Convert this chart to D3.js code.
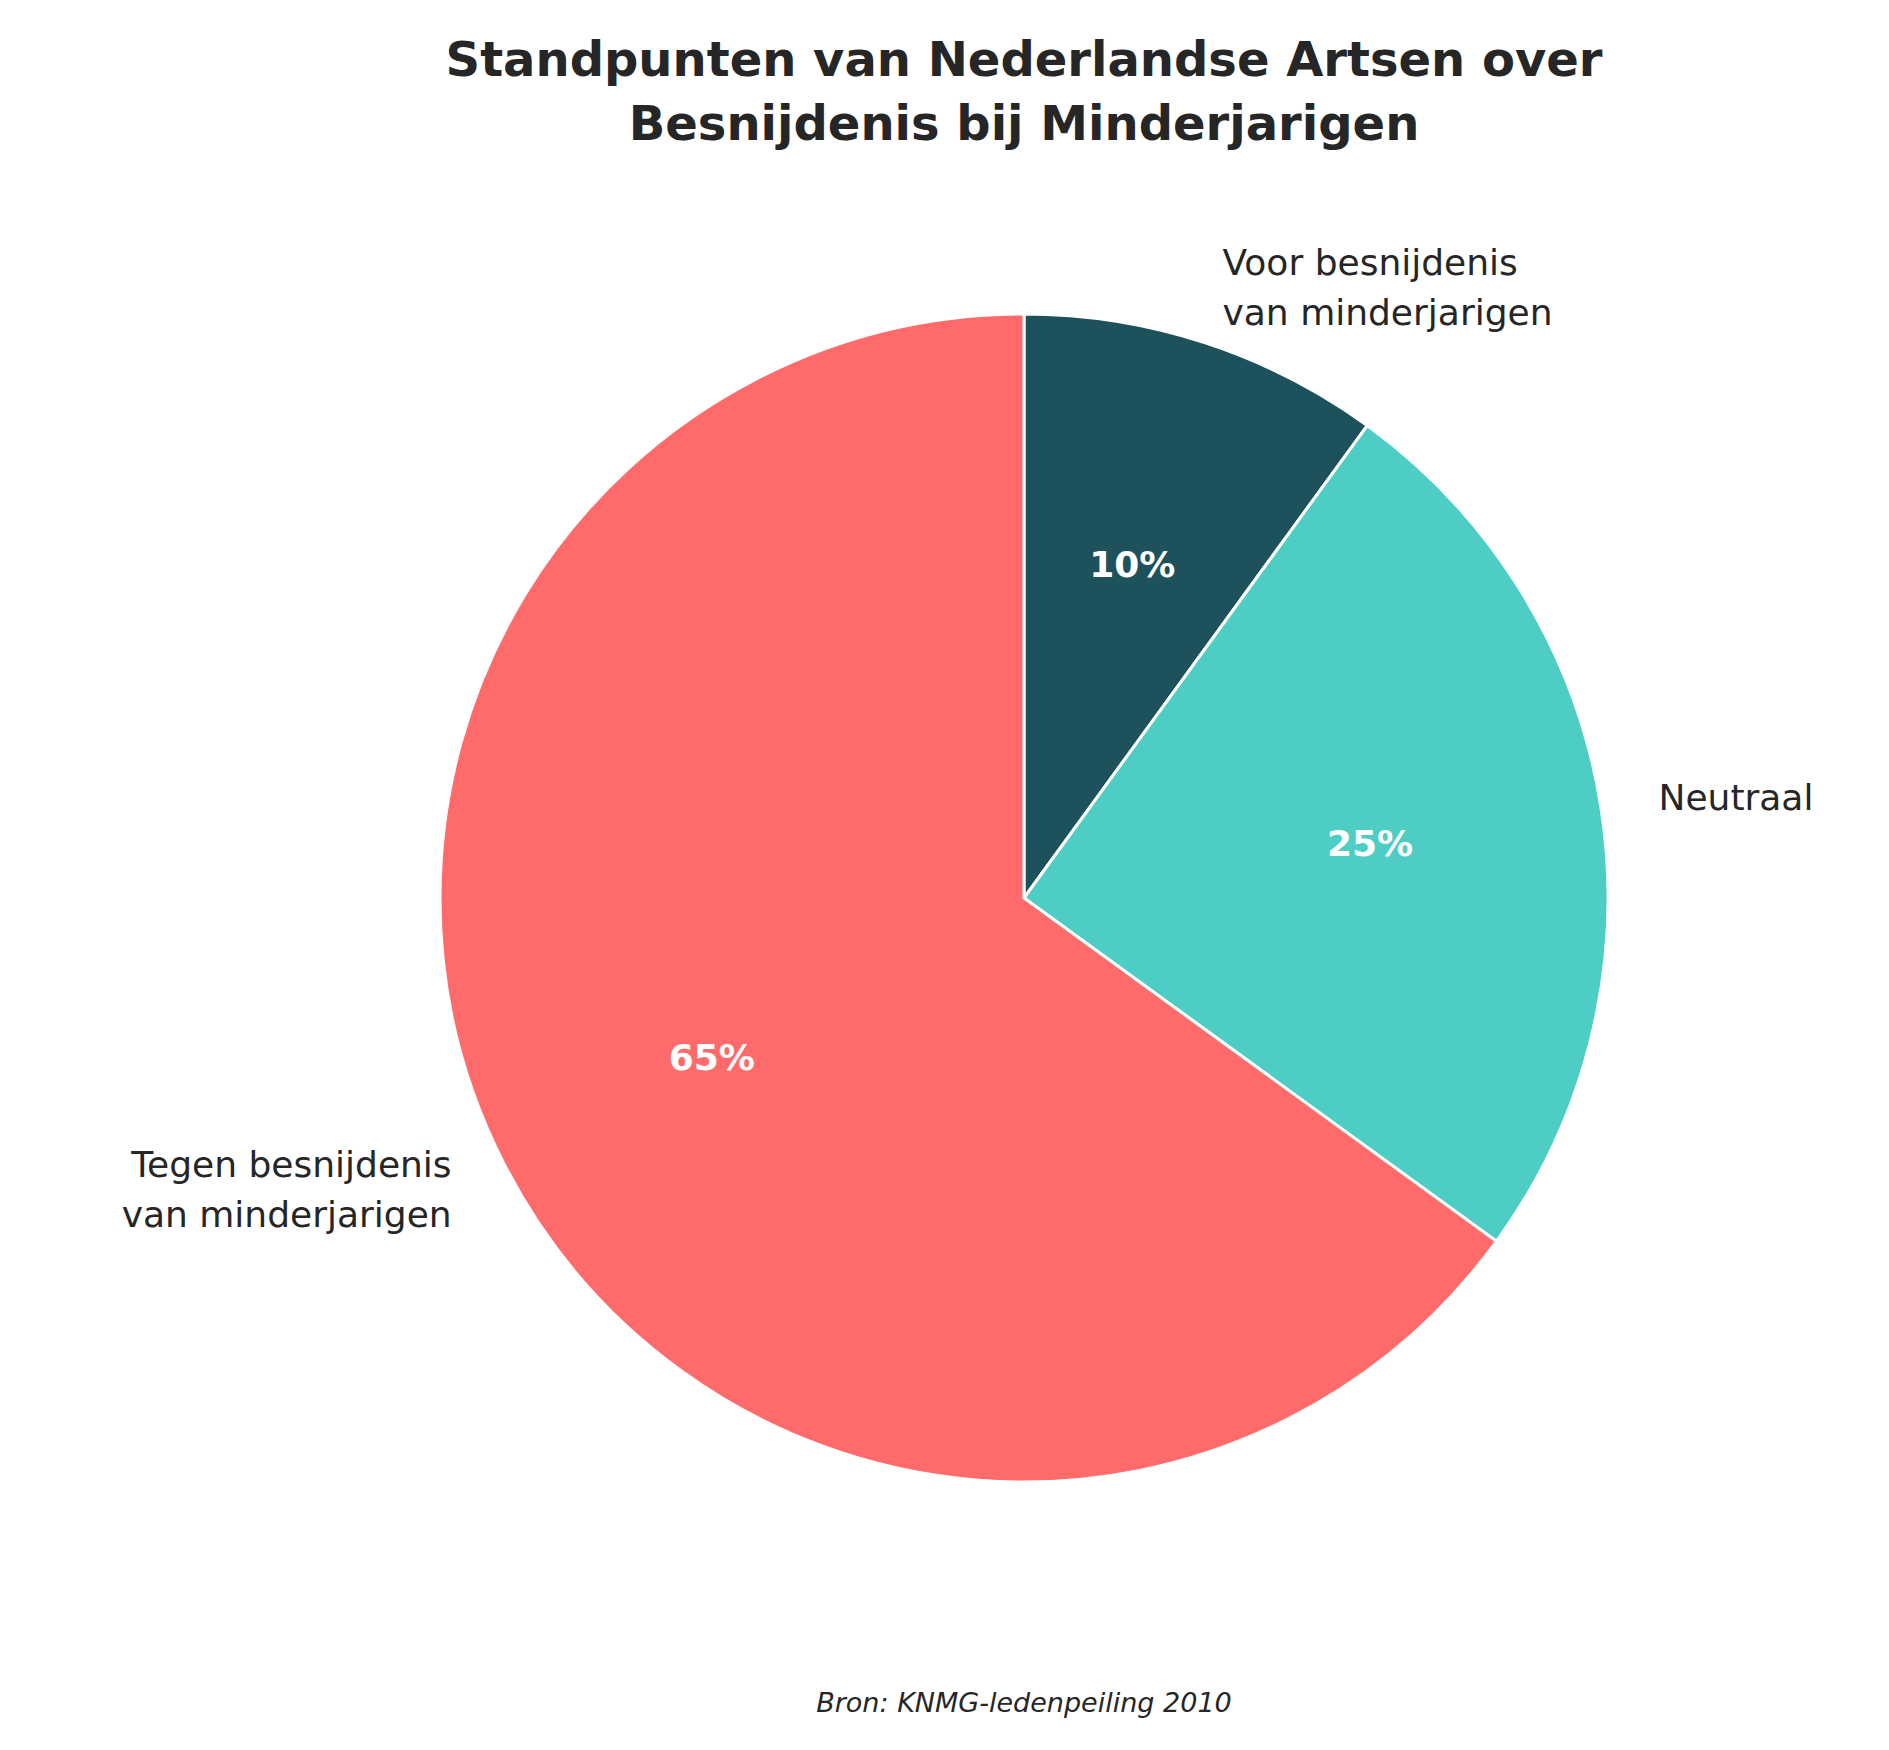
<!DOCTYPE html>
<html><head><meta charset="utf-8">
<script src="https://cdn.jsdelivr.net/npm/d3@7"></script>
<style>body{margin:0;background:#fff}</style></head>
<body><svg id="c" width="1889" height="1750"></svg>
<script>
const categories = [["Voor besnijdenis","van minderjarigen"],["Neutraal"],["Tegen besnijdenis","van minderjarigen"]];
const values = [10, 25, 65];
const colors = ["#1D525C", "#4ECDC4", "#FF6B6B"];
const titleLines = ["Standpunten van Nederlandse Artsen over","Besnijdenis bij Minderjarigen"];
const source = "Bron: KNMG-ledenpeiling 2010";

const svg = d3.select("#c");
const cx = 1024, cy = 898, R = 584;
const font = "DejaVu Sans, sans-serif";
svg.append("text").attr("x", 1024).attr("text-anchor","middle").attr("font-family",font)
  .attr("font-weight","bold").attr("font-size",48).attr("fill","#262626")
  .selectAll("tspan").data(titleLines).join("tspan").attr("x",1024)
  .attr("y",(d,i)=>76+i*64).text(d=>d);

const pie = d3.pie().sort(null).value(d=>d)(values);
const arc = d3.arc().innerRadius(0).outerRadius(R);
const g = svg.append("g").attr("transform",`translate(${cx},${cy})`);
g.selectAll("path").data(pie).join("path").attr("d",arc)
  .attr("fill",(d,i)=>colors[i]).attr("stroke","#fff").attr("stroke-width",3);

pie.forEach((d,i)=>{
  const a = (d.startAngle+d.endAngle)/2;
  const sx = Math.sin(a), sy = -Math.cos(a);
  g.append("text").attr("x",sx*R*0.6).attr("y",sy*R*0.6).attr("dy","0.35em")
    .attr("text-anchor","middle").attr("font-family",font).attr("font-weight","bold")
    .attr("font-size",36).attr("fill","#fff").text(values[i]+"%");
  const lines = categories[i];
  const lx = sx*R*1.1, ly = sy*R*1.1;
  const lh = 50;
  g.append("text").attr("text-anchor", sx>=0?"start":"end").attr("font-family",font)
    .attr("font-size",36).attr("fill","#262626")
    .selectAll("tspan").data(lines).join("tspan").attr("x",lx)
    .attr("y",(t,j)=>ly+(j-(lines.length-1)/2)*lh).attr("dy","0.35em").text(t=>t);
});

svg.append("text").attr("x",1024).attr("y",1712).attr("text-anchor","middle")
  .attr("font-family",font).attr("font-style","italic").attr("font-size",27)
  .attr("fill","#262626").text(source);
</script></body></html>
